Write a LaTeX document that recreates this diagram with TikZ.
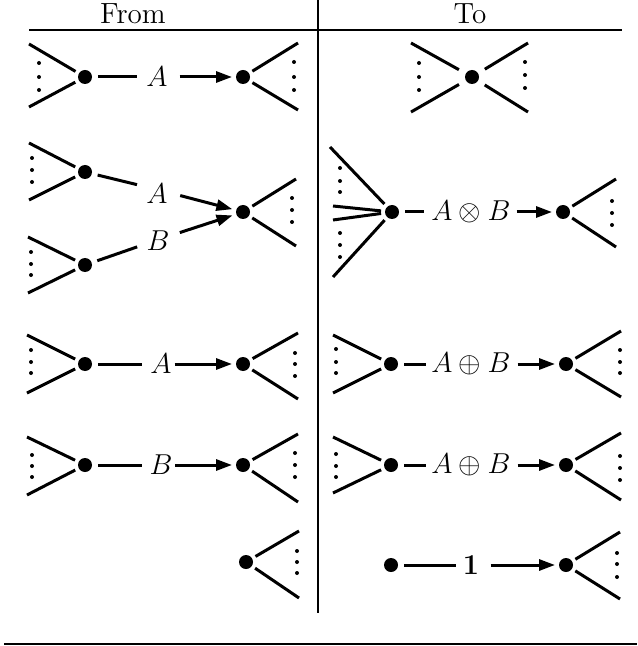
\documentclass[tikz,border=0pt]{standalone}
\usetikzlibrary{arrows.meta}
\begin{document}
\begin{tikzpicture}[x=0.5pt,y=-0.5pt,
  font=\fontsize{14.6pt}{17pt}\selectfont,
  vtx/.style={circle,fill,inner sep=0pt,minimum size=7pt,outer sep=2pt},
  lbl/.style={inner sep=0pt,outer sep=0pt},
  wire/.style={line width=1.5pt},
  arr/.style={wire,-{Triangle[length=8pt,width=5.5pt]}},
  hrule/.style={line width=0.9pt},
  vrule/.style={line width=0.8pt},
  brule/.style={line width=1.3pt}]
\useasboundingbox (0,0) rectangle (637,646);

% header
\node[anchor=base] (hfrom) at (133,24) {From};
\node[anchor=base] (hto) at (470,24) {To};
\draw[hrule] (29,30) -- (622,30);
\draw[vrule] (318,0) -- (318,613);
\draw[brule] (4,644) -- (637,644);

% vertices
\node[vtx] (d11) at (85,77) {};
\node[vtx] (d12) at (243,77) {};
\node[vtx] (t11) at (472,77) {};
\node[vtx] (d21) at (85,172) {};
\node[vtx] (d22) at (85,265) {};
\node[vtx] (d23) at (243,212) {};
\node[vtx] (t21) at (392,212) {};
\node[vtx] (t22) at (563,212) {};
\node[vtx] (d31) at (85,364) {};
\node[vtx] (d32) at (243,364) {};
\node[vtx] (t31) at (391,364) {};
\node[vtx] (t32) at (566,364) {};
\node[vtx] (d41) at (85,465) {};
\node[vtx] (d42) at (243,465) {};
\node[vtx] (t41) at (391,465) {};
\node[vtx] (t42) at (566,465) {};
\node[vtx] (d52) at (246,562) {};
\node[vtx] (t51) at (391,565) {};
\node[vtx] (t52) at (566,565) {};

% labels
\node[lbl] (l11) at (157,77) {$A$};
\node[lbl] (l21) at (157,194) {$A$};
\node[lbl] (l22) at (158,241) {$B$};
\node[lbl] (l2) at (471,212) {$A\otimes B$};
\node[lbl] (l31) at (161,364) {$A$};
\node[lbl] (l32) at (471,364) {$A\oplus B$};
\node[lbl] (l41) at (161,465) {$B$};
\node[lbl] (l42) at (471,465) {$A\oplus B$};
\node[lbl] (l5) at (471,565) {$\mathbf{1}$};
\coordinate (mA) at (157,189.5);
\coordinate (mB) at (157,240);

% connectors
\draw[wire,shorten <=1pt,shorten >=4.5pt] (d11) -- (l11);
\draw[arr,shorten <=6pt] (l11) -- (d12);
\draw[wire,shorten <=1pt,shorten >=10.3pt] (d21) -- (mA);
\draw[arr,shorten <=12pt] (mA) -- (d23);
\draw[wire,shorten <=1pt,shorten >=10.5pt] (d22) -- (mB);
\draw[arr,shorten <=12pt] (mB) -- (d23);
\draw[wire,shorten <=1pt,shorten >=3.5pt] (t21) -- (l2);
\draw[arr,shorten <=3pt] (l2) -- (t22);
\draw[wire,shorten <=1pt,shorten >=4pt] (d31) -- (l31);
\draw[arr,shorten <=1.5pt] (l31) -- (d32);
\draw[wire,shorten <=1pt,shorten >=2.5pt] (t31) -- (l32);
\draw[arr,shorten <=3.5pt] (l32) -- (t32);
\draw[wire,shorten <=1pt,shorten >=4pt] (d41) -- (l41);
\draw[arr,shorten <=1.5pt] (l41) -- (d42);
\draw[wire,shorten <=1pt,shorten >=2.5pt] (t41) -- (l42);
\draw[arr,shorten <=3.5pt] (l42) -- (t42);
\draw[wire,shorten <=1pt,shorten >=3.3pt] (t51) -- (l5);
\draw[arr,shorten <=5.8pt] (l5) -- (t52);

% fan lines (vertex -> free end)
\foreach \v/\n/\x/\y in {
  d11/a/29/44, d11/b/29/107,
  d12/a/298/43, d12/b/298/110,
  d21/a/29/143, d21/b/29/200,
  d22/a/28/237, d22/b/28/293,
  d23/a/296/179, d23/b/296/246,
  t21/a/330/147, t21/b/333/206, t21/c/333/220, t21/d/333/277,
  t22/a/616/179, t22/b/616/247,
  d31/a/27/335, d31/b/27/393,
  d32/a/298/333, d32/b/298/399,
  t31/a/333/335, t31/b/333/393,
  t32/a/621/331, t32/b/621/397,
  d41/a/27/437, d41/b/27/495,
  d42/a/298/434, d42/b/298/502,
  t41/a/333/437, t41/b/333/493,
  t42/a/621/433, t42/b/621/500,
  d52/a/299/531, d52/b/299/598,
  t52/a/620/532, t52/b/620/599}
{\coordinate (\v\n) at (\x,\y); \draw[wire] (\v) -- (\v\n);}
\foreach \n/\x/\y in {a/411/43, b/411/112, c/528/43, d/528/112}
{\coordinate (t11\n) at (\x,\y); \draw[wire,shorten <=2pt] (t11) -- (t11\n);}

% vertical ellipses
\foreach \x/\ya/\yb/\yc in {
  39/63/77/90, 294/62/77/90, 419/63/77/90, 525/62/75/88,
  32/158/170/182, 31/252/264/275, 292/198/210/222,
  340/168/181/192, 340/233/245/257, 612/201/213/225,
  31/350/362/373, 295/353/364/376, 336/349/362/373, 620/350/362/373,
  32/455/466/477, 295/453/465/477, 336/454/466/477, 620/456/468/480,
  297/551/562/573, 617/553/564/577}
{\fill (\x,\ya) circle[radius=1pt] (\x,\yb) circle[radius=1pt] (\x,\yc) circle[radius=1pt];}
\end{tikzpicture}
\end{document}
